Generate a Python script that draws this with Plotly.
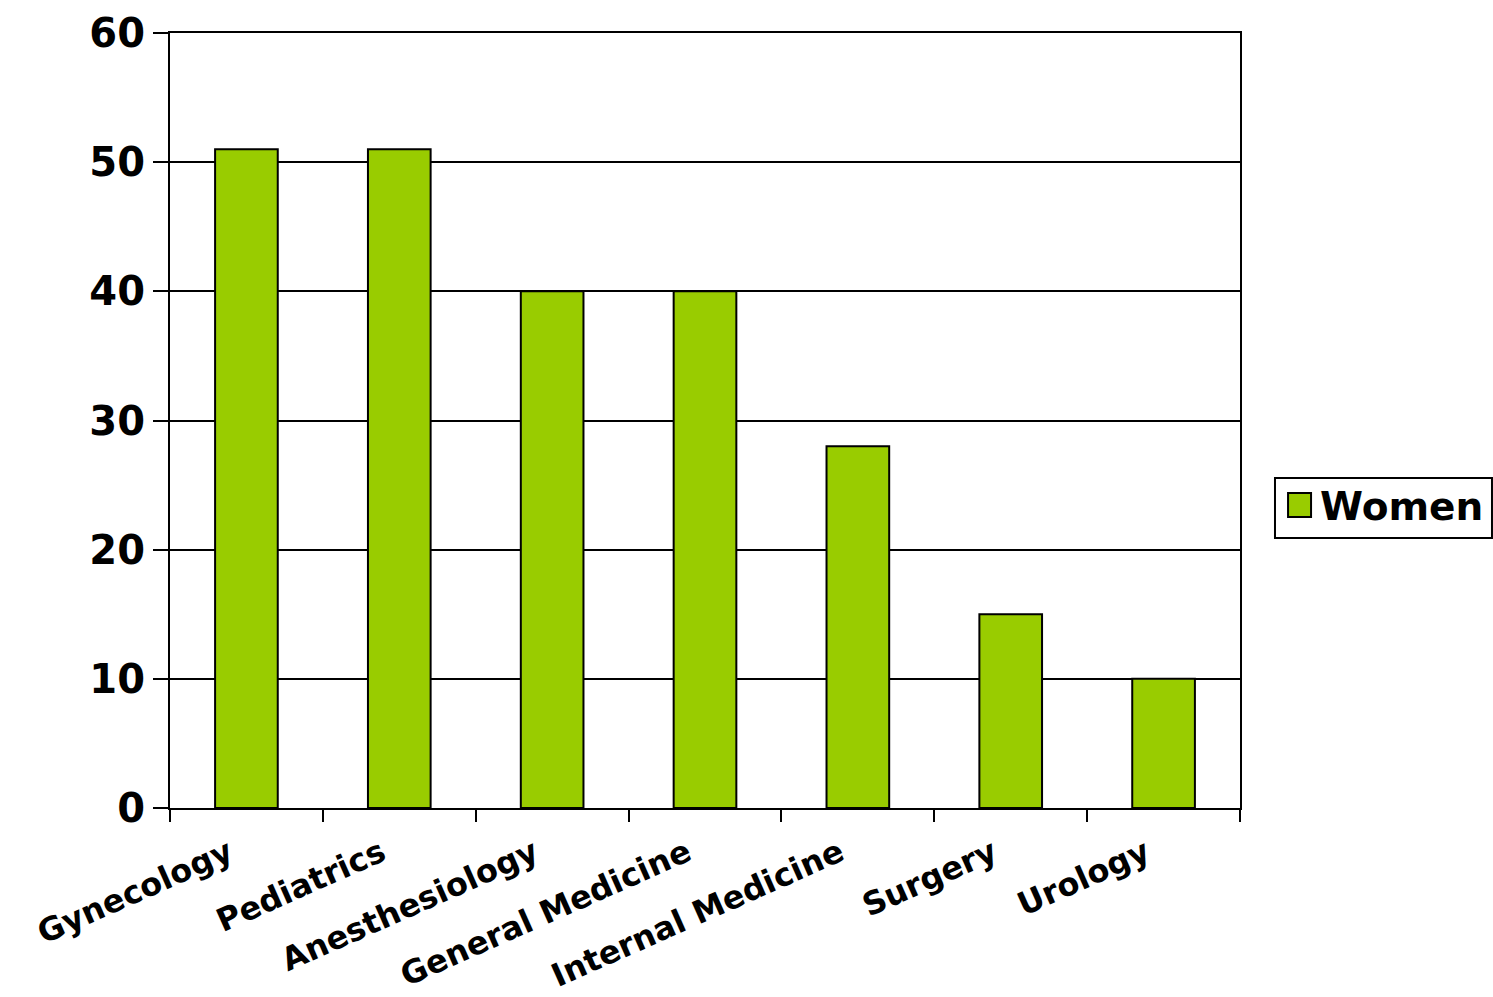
import plotly.graph_objects as go

categories = ["Gynecology", "Pediatrics", "Anesthesiology", "General Medicine",
              "Internal Medicine", "Surgery", "Urology"]
women = [51, 51, 40, 40, 28, 15, 10]
y_ticks = [0, 10, 20, 30, 40, 50, 60]
series_name = "Women"

FONT = "DejaVu Sans"
GREEN = "#99CC00"

fig = go.Figure()
fig.add_trace(go.Bar(
    x=categories, y=women, name=series_name,
    marker=dict(color=GREEN, line=dict(color="black", width=2)),
    showlegend=False,
))

# manual legend (box, swatch, label) in paper coordinates
fig.add_shape(type="rect", xref="paper", yref="paper",
              x0=1.0327, x1=1.2355, y0=0.3484, y1=0.4258,
              line=dict(color="black", width=2), fillcolor="white", layer="above")
fig.add_shape(type="rect", xref="paper", yref="paper",
              x0=1.0449, x1=1.0664, y0=0.3755, y1=0.4065,
              line=dict(color="black", width=2), fillcolor=GREEN, layer="above")
fig.add_annotation(xref="paper", yref="paper", x=1.073, y=0.389,
                   xanchor="left", yanchor="middle", showarrow=False,
                   text=series_name,
                   font=dict(family=FONT, size=39, weight="bold", color="black"))

fig.update_layout(
    width=1493, height=997,
    paper_bgcolor="white", plot_bgcolor="white",
    margin=dict(l=170, r=253, t=33, b=189, autoexpand=False),
    bargap=0.59,
    font=dict(family=FONT, color="black", size=32, weight="bold"),
    showlegend=False,
    xaxis=dict(
        tickangle=-24, tickson="boundaries", ticks="outside", ticklen=12,
        tickwidth=2, tickcolor="black", showline=True, linecolor="black",
        linewidth=2, mirror=True, showgrid=False,
        ticklabelstandoff=12, ticklabelshift=-18,
        tickfont=dict(family=FONT, size=32, weight="bold", color="black"),
    ),
    yaxis=dict(
        range=[0, 60], tickvals=y_ticks, ticks="outside", ticklen=15,
        tickwidth=2, tickcolor="black", showline=True, linecolor="black",
        linewidth=2, mirror=True, showgrid=True, gridcolor="black",
        gridwidth=2, zeroline=False,
        tickfont=dict(family=FONT, size=40, weight="bold", color="black"),
    ),
)

fig.write_html("out.html")
